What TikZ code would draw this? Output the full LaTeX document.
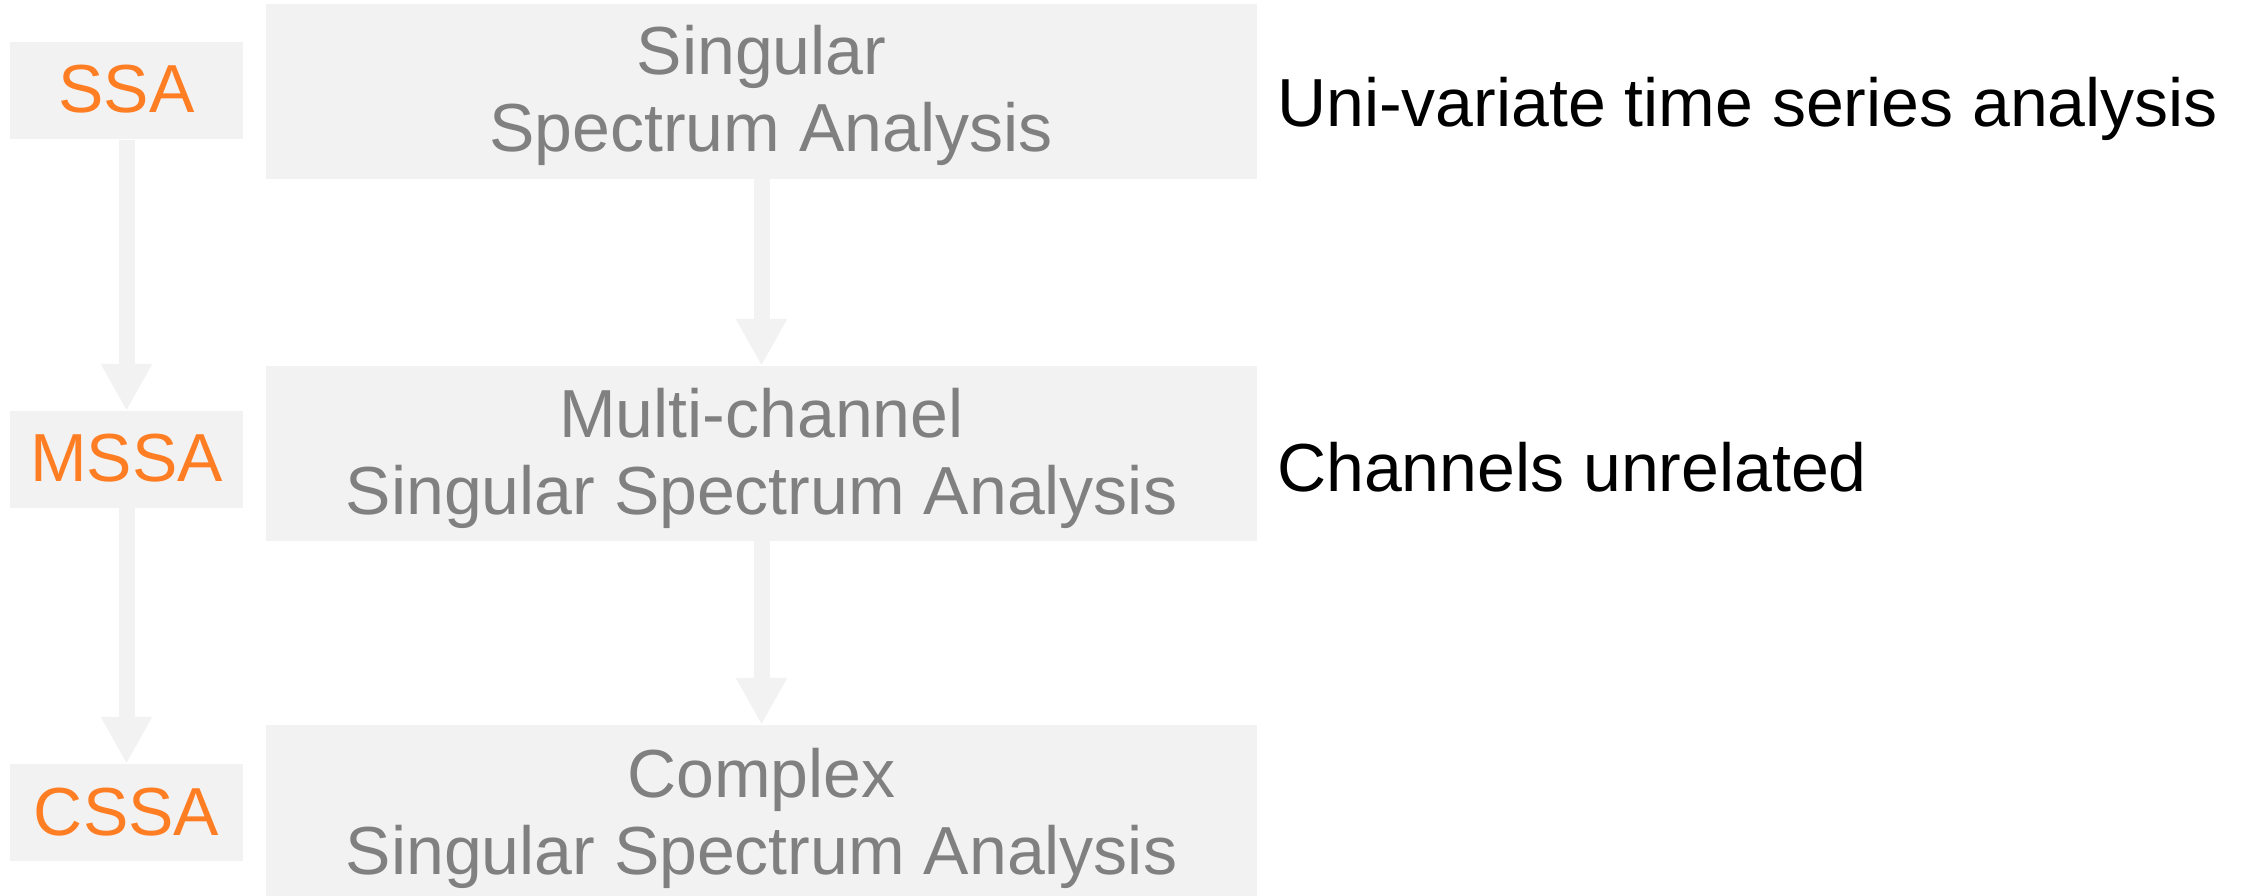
\documentclass[tikz,border=0pt]{standalone}
\usepackage{fontspec}
\setmainfont{Liberation Sans}
\usetikzlibrary{arrows.meta}
\definecolor{boxgray}{RGB}{242,242,242}
\definecolor{txtgray}{RGB}{128,128,128}
\definecolor{accent}{RGB}{255,125,35}
\begin{document}
\begin{tikzpicture}[x=1pt,y=-1pt,
  bigbox/.style={fill=boxgray, draw=none, minimum width=991pt, minimum height=175pt, inner sep=0pt},
  smallbox/.style={fill=boxgray, draw=none, minimum width=233pt, minimum height=97pt, inner sep=0pt},
  flow/.style={draw=boxgray, line width=16pt, -{Triangle[width=48pt,length=47pt]}},
  boxtext/.style={text=txtgray, align=center, inner sep=0pt, font=\fontsize{68}{77}\selectfont},
  abbr/.style={text=accent, inner sep=0pt, font=\fontsize{68}{77}\selectfont},
  note/.style={text=black, inner sep=0pt, font=\fontsize{68}{77}\selectfont}]
\useasboundingbox (0,0) rectangle (2252,896);
% boxes
\node[bigbox] (b1) at (761.5,91.5) {};
\node[bigbox] (b2) at (761.5,453.5) {};
\node[bigbox] (b3) at (761.5,812.5) {};
\node[smallbox] (s1) at (126.5,91) {};
\node[smallbox] (s2) at (126.5,459.5) {};
\node[smallbox] (s3) at (126.5,812.5) {};
% connectors
\draw[flow] (b1.south) -- (b2.north);
\draw[flow] (b2.south) -- (b3.north);
\draw[flow] (s1.south) -- (s2.north);
\draw[flow] (s2.south) -- (s3.north);
% texts
\node[boxtext, anchor=north] (t1) at (761.5,25.5) {Singular\\\hspace*{19pt}Spectrum Analysis};
\node[boxtext, anchor=north] (t2) at (761.5,388.5) {Multi-channel\\Singular Spectrum Analysis};
\node[boxtext, anchor=north] (t3) at (761.5,748.5) {Complex\\Singular Spectrum Analysis};
\node[abbr, anchor=base] (a1) at (126.5,113) {SSA};
\node[abbr, anchor=base] (a2) at (126.5,481) {MSSA};
\node[abbr, anchor=base] (a3) at (126.5,835) {CSSA};
\node[note, anchor=base west] (n1) at (1277,127) {Uni-variate time series analysis};
\node[note, anchor=base west] (n2) at (1277,491) {Channels unrelated};
\end{tikzpicture}
\end{document}
